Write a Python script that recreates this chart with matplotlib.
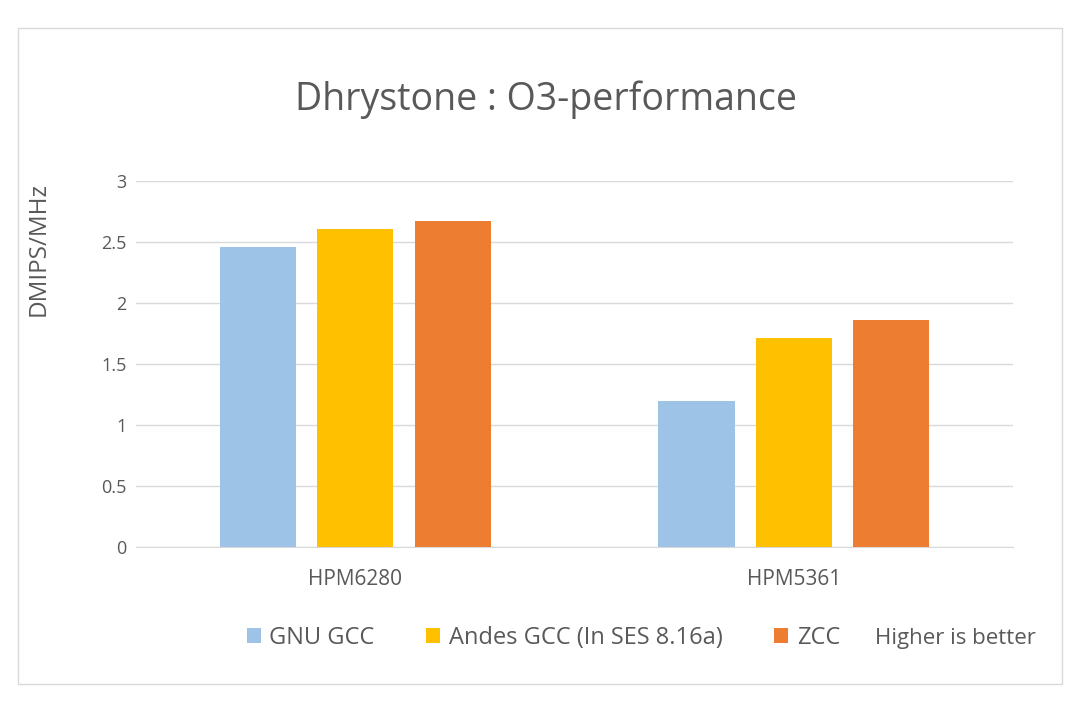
import matplotlib.pyplot as plt
import numpy as np
from matplotlib.patches import Rectangle

chips = ['HPM6280', 'HPM5361']
compilers = ['GNU GCC', 'Andes GCC (In SES 8.16a)', 'ZCC']
gnu_gcc = [2.46, 1.20]
andes_gcc = [2.61, 1.71]
zcc = [2.67, 1.86]
yticks = [0, 0.5, 1, 1.5, 2, 2.5, 3]

colors = ['#9dc3e6', '#ffc000', '#ed7d31']
text_color = '#595959'

plt.rcParams['font.family'] = ['Open Sans', 'DejaVu Sans']

fig = plt.figure(figsize=(10.8, 7.13), dpi=100)
ax = fig.add_axes([0.126, 0.233, 0.812, 0.513])

# light frame round the whole chart
fig.patches.append(Rectangle((0.017, 0.04), 0.966, 0.921, transform=fig.transFigure,
                             fill=False, edgecolor='#d9d9d9', linewidth=1))

x = np.arange(len(chips))
width = 0.174
offset = 0.222
for i, (vals, label) in enumerate(zip([gnu_gcc, andes_gcc, zcc], compilers)):
    ax.bar(x + (i - 1) * offset, vals, width, color=colors[i], label=label, zorder=3)

ax.set_xlim(-0.5, 1.5)
ax.set_ylim(0, 3)
ax.set_yticks(yticks)
ax.set_yticklabels([f'{t:g}' for t in yticks])
ax.set_xticks(x)
ax.set_xticklabels(chips)
ax.tick_params(axis='y', length=0, labelsize=13, colors=text_color, pad=7)
ax.tick_params(axis='x', length=0, labelsize=15, colors=text_color, pad=16)
ax.grid(axis='y', color='#d9d9d9', linewidth=1, zorder=0)
for s in ['top', 'right', 'left']:
    ax.spines[s].set_visible(False)
ax.spines['bottom'].set_color('#d9d9d9')

ax.set_ylabel('DMIPS/MHz', fontsize=17.5, color=text_color)
ax.yaxis.set_label_coords(-0.097, 0.815)

fig.text(0.506, 0.86, 'Dhrystone : O3-performance', ha='center', va='center',
         fontsize=27, color=text_color)

fig.legend(loc='center', bbox_to_anchor=(0.503, 0.105), ncol=3, frameon=False,
           fontsize=17, labelcolor=text_color, handlelength=0.6, handleheight=0.6,
           handletextpad=0.35, columnspacing=2.2)
fig.text(0.81, 0.105, 'Higher is better', ha='left', va='center',
         fontsize=16, color=text_color)

fig.savefig('out.png', dpi=100)
